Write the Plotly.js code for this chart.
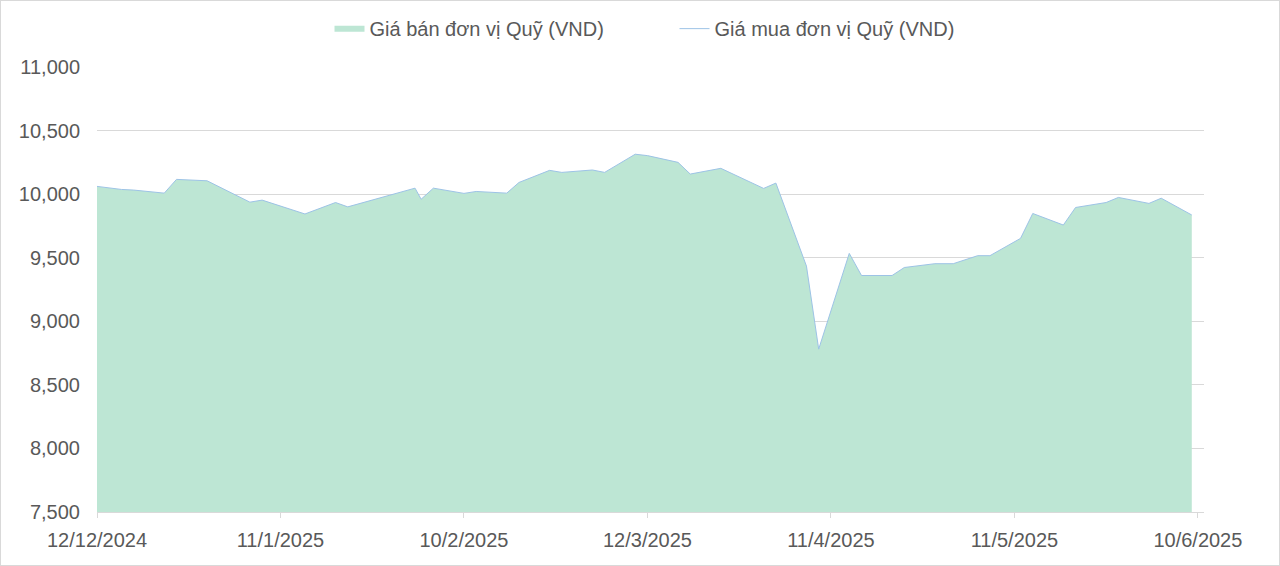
<!DOCTYPE html>
<html>
<head>
<meta charset="utf-8">
<script src="https://cdn.plot.ly/plotly-3.0.1.min.js"></script>
<style>
  html, body { margin: 0; padding: 0; background: #fff; }
  #frame { width: 1280px; height: 566px; box-sizing: border-box; border: 1px solid #d9d9d9; }
  #chart { width: 1278px; height: 564px; }
</style>
</head>
<body>
<div id="frame"><div id="chart"></div></div>
<script>
// Fund unit price series
const dates = [
  '2024-12-12', '2024-12-16', '2024-12-18', '2024-12-23', '2024-12-25', '2024-12-30',
  '2025-01-06', '2025-01-08', '2025-01-15', '2025-01-20', '2025-01-22',
  '2025-02-02', '2025-02-03', '2025-02-05', '2025-02-10', '2025-02-12', '2025-02-17',
  '2025-02-19', '2025-02-24', '2025-02-26',
  '2025-03-03', '2025-03-05', '2025-03-10', '2025-03-12', '2025-03-17', '2025-03-19',
  '2025-03-24', '2025-03-31',
  '2025-04-02', '2025-04-07', '2025-04-09', '2025-04-14', '2025-04-16', '2025-04-21',
  '2025-04-23', '2025-04-28',
  '2025-05-01', '2025-05-05', '2025-05-07', '2025-05-12', '2025-05-14', '2025-05-19',
  '2025-05-21', '2025-05-26', '2025-05-28',
  '2025-06-02', '2025-06-04', '2025-06-09'
];

const sellPrice = [
  10061, 10037, 10032, 10008, 10116, 10105,
  9937, 9953, 9844, 9934, 9900,
  10047, 9960, 10047, 10006, 10021, 10008,
  10092, 10187, 10171,
  10190, 10171, 10314, 10303, 10250, 10158,
  10203, 10045,
  10087, 9434, 8781, 9534, 9360, 9360,
  9423, 9453,
  9453, 9516, 9516, 9652, 9848, 9757,
  9895, 9934, 9974,
  9927, 9968, 9836
];

const buyPrice = sellPrice.slice();

const tickDates = ['2024-12-12', '2025-01-11', '2025-02-10', '2025-03-12', '2025-04-11', '2025-05-11', '2025-06-10'];
const tickLabels = ['12/12/2024', '11/1/2025', '10/2/2025', '12/3/2025', '11/4/2025', '11/5/2025', '10/6/2025'];
const yTicks = [7500, 8000, 8500, 9000, 9500, 10000, 10500, 11000];

const FONT = '"Liberation Sans", Arial, sans-serif';
const TEXT = '#595959';

const sellTrace = {
  x: dates,
  y: sellPrice,
  type: 'scatter',
  mode: 'none',
  fill: 'tozeroy',
  fillcolor: '#bde6d4',
  name: 'Giá bán đơn vị Quỹ (VND)',
  hoverinfo: 'skip'
};

const buyTrace = {
  x: dates,
  y: buyPrice,
  type: 'scatter',
  mode: 'lines',
  line: { color: '#9dc3e6', width: 1 },
  name: 'Giá mua đơn vị Quỹ (VND)',
  hoverinfo: 'skip'
};

const layout = {
  width: 1278,
  height: 564,
  paper_bgcolor: '#ffffff',
  plot_bgcolor: '#ffffff',
  margin: { l: 96, r: 75, t: 66, b: 53 },
  font: { family: FONT, color: TEXT, size: 20 },
  showlegend: true,
  legend: {
    orientation: 'h',
    xref: 'container', yref: 'container',
    x: 0.527, xanchor: 'center',
    y: 0.951, yanchor: 'middle',
    entrywidth: 300,
    font: { family: FONT, color: TEXT, size: 20 }
  },
  xaxis: {
    type: 'date',
    range: ['2024-12-12', '2025-06-11'],
    tickvals: tickDates,
    ticktext: tickLabels,
    showgrid: false,
    zeroline: false,
    showline: true,
    linecolor: '#d9d9d9',
    linewidth: 1,
    ticks: 'outside',
    ticklen: 5,
    tickcolor: '#d9d9d9',
    ticklabelstandoff: 5,
    tickfont: { family: FONT, color: TEXT, size: 20 }
  },
  yaxis: {
    range: [7500, 11000],
    tickvals: yTicks,
    tickformat: ',d',
    showgrid: true,
    gridcolor: '#d9d9d9',
    gridwidth: 1,
    zeroline: false,
    showline: false,
    ticks: '',
    ticklabelstandoff: 16,
    tickfont: { family: FONT, color: TEXT, size: 20 }
  },
  hovermode: false
};

Plotly.newPlot('chart', [sellTrace, buyTrace], layout, { displayModeBar: false, staticPlot: true });
</script>
</body>
</html>
